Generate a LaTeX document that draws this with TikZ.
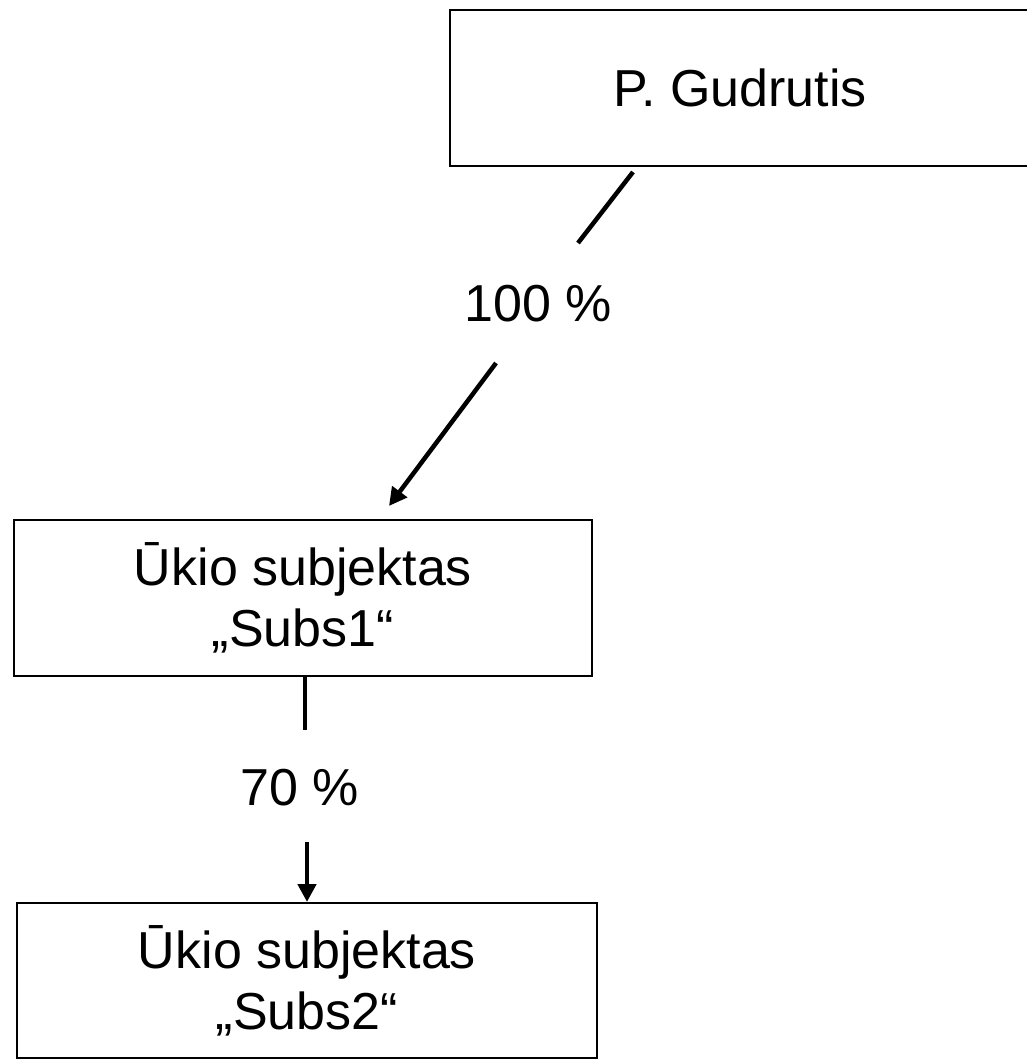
\documentclass[tikz,border=0pt]{standalone}
\usepackage{fontspec}
\setmainfont{Liberation Sans}
\usetikzlibrary{arrows.meta}
\begin{document}
\begin{tikzpicture}[x=1pt,y=-1pt,
  box/.style={draw=black,line width=2pt,rectangle,minimum width=578pt,minimum height=156pt,
    inner sep=0pt,align=center,font=\fontsize{52}{61}\selectfont},
  lbl/.style={inner sep=0pt,font=\fontsize{52}{61}\selectfont},
  conn/.style={line width=4.5pt},
  arr/.style={line width=4.5pt,-{Triangle[length=18pt,width=18pt]}}]
\useasboundingbox (0,0) rectangle (1026,1060);
\node[box,minimum width=580pt] (gud) at (740,88) {P. Gudrutis};
\node[box] (s1) at (303,598) {Ūkio subjektas\\„Subs1“};
\node[box,minimum width=580pt,minimum height=155pt] (s2) at (307,980.5) {Ūkio subjektas\\„Subs2“};
\node[lbl] (p100) at (538,304) {100 \%};
\node[lbl] (p70) at (300,788) {70 \%};
\coordinate (a1) at (633,172);
\coordinate (a2) at (578,243);
\coordinate (a3) at (496,363);
\coordinate (a4) at (389,506);
\coordinate (b1) at (305,677);
\coordinate (b2) at (305,730);
\coordinate (b3) at (307,842);
\coordinate (b4) at (307,902);
\draw[conn] (a1) -- (a2);
\draw[arr] (a3) -- (a4);
\draw[conn] (b1) -- (b2);
\draw[arr] (b3) -- (b4);
\end{tikzpicture}
\end{document}
